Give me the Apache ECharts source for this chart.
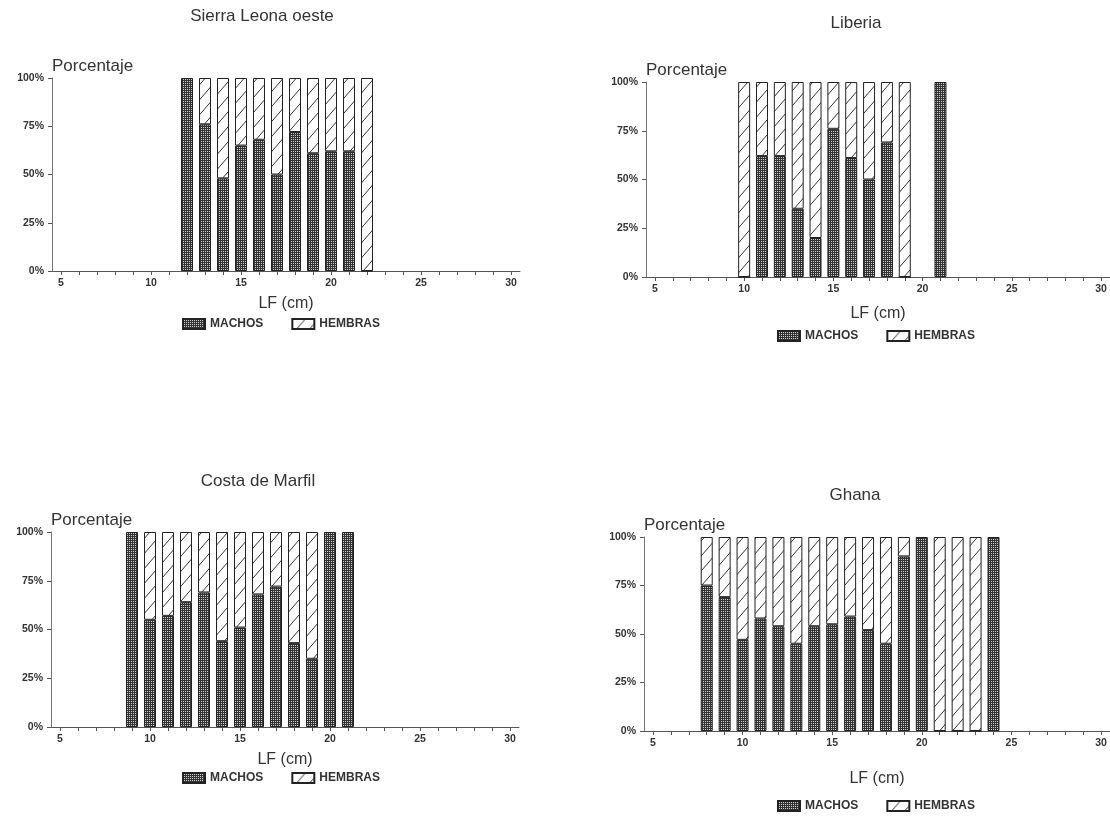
<!DOCTYPE html>
<html>
<head>
<meta charset="utf-8">
<script src="https://cdn.jsdelivr.net/npm/echarts@6/dist/echarts.min.js"></script>
<style>
html,body{margin:0;padding:0;background:#ffffff;}
#chart{width:1110px;height:816px;}
</style>
</head>
<body>
<div id="chart"></div>
<script>
// ---------------- DATA ----------------
const panelTitles = ['Sierra Leona oeste', 'Liberia', 'Costa de Marfil', 'Ghana'];
const seriesNames = ['MACHOS', 'HEMBRAS'];
const yAxisName = 'Porcentaje';
const xAxisName = 'LF (cm)';

// Sierra Leona oeste
const lengthsSL = [12, 13, 14, 15, 16, 17, 18, 19, 20, 21, 22];
const machosSL  = [100, 76, 48, 65, 68, 50, 72, 61, 62, 62, 0];
const hembrasSL = [0, 24, 52, 35, 32, 50, 28, 39, 38, 38, 100];

// Liberia
const lengthsLI = [10, 11, 12, 13, 14, 15, 16, 17, 18, 19, 21];
const machosLI  = [0, 62, 62, 35, 20, 76, 61, 50, 69, 0, 100];
const hembrasLI = [100, 38, 38, 65, 80, 24, 39, 50, 31, 100, 0];

// Costa de Marfil
const lengthsCM = [9, 10, 11, 12, 13, 14, 15, 16, 17, 18, 19, 20, 21];
const machosCM  = [100, 55, 57, 64, 69, 44, 51, 68, 72, 43, 35, 100, 100];
const hembrasCM = [0, 45, 43, 36, 31, 56, 49, 32, 28, 57, 65, 0, 0];

// Ghana
const lengthsGH = [8, 9, 10, 11, 12, 13, 14, 15, 16, 17, 18, 19, 20, 21, 22, 23, 24];
const machosGH  = [75, 69, 47, 58, 54, 45, 54, 55, 59, 52, 45, 90, 100, 0, 0, 0, 100];
const hembrasGH = [25, 31, 53, 42, 46, 55, 46, 45, 41, 48, 55, 10, 0, 100, 100, 100, 0];

// axis categories / tick labels
const xCategories = [5, 6, 7, 8, 9, 10, 11, 12, 13, 14, 15, 16, 17, 18, 19, 20, 21, 22, 23, 24, 25, 26, 27, 28, 29, 30];
const xLabelValues = [5, 10, 15, 20, 25, 30];
const yTickValues = [0, 25, 50, 75, 100];

const panels = [
  { lengths: lengthsSL, machos: machosSL, hembras: hembrasSL },
  { lengths: lengthsLI, machos: machosLI, hembras: hembrasLI },
  { lengths: lengthsCM, machos: machosCM, hembras: hembrasCM },
  { lengths: lengthsGH, machos: machosGH, hembras: hembrasGH }
];

// ---------------- LAYOUT ----------------
const layout = [
  { grid: { left: 52, top: 78, width: 468, height: 193 }, title: [262, 8],  legend: [182, 318], nameGap: 25 },
  { grid: { left: 646, top: 82, width: 466, height: 195 }, title: [856, 15], legend: [777, 330], nameGap: 29 },
  { grid: { left: 51, top: 532, width: 468, height: 195 }, title: [258, 473], legend: [182, 772], nameGap: 25 },
  { grid: { left: 644, top: 537, width: 466, height: 194 }, title: [855, 487], legend: [777, 800], nameGap: 40 }
];

const FONT = '"Liberation Sans", Arial, sans-serif';
const TXT = '#333333';

function machosPattern() {
  const c = document.createElement('canvas');
  c.width = 4; c.height = 4;
  const g = c.getContext('2d');
  g.fillStyle = '#333333';
  g.fillRect(0, 0, 4, 4);
  g.fillStyle = '#cfcfcf';
  [[1, 1], [3, 3], [1, 3], [3, 1]].forEach(function (p) { g.fillRect(p[0], p[1], 1, 1); });
  return c;
}
function hembrasPattern() {
  const c = document.createElement('canvas');
  c.width = 13; c.height = 15;
  const g = c.getContext('2d');
  g.fillStyle = '#ffffff';
  g.fillRect(0, 0, 13, 15);
  g.strokeStyle = '#333333';
  g.lineWidth = 1;
  g.beginPath();
  g.moveTo(0, 15);
  g.lineTo(13, 0);
  g.stroke();
  return c;
}
const patM = { image: machosPattern(), repeat: 'repeat' };
const patH = { image: hembrasPattern(), repeat: 'repeat' };

// machos: keep 0 inside the measured range so that the stack base exists
function machosData(lengths, values) {
  return xCategories.map(function (c) {
    const k = lengths.indexOf(c);
    return k < 0 ? '-' : values[k];
  });
}
function hembrasData(lengths, values) {
  return xCategories.map(function (c) {
    const k = lengths.indexOf(c);
    return (k < 0 || !values[k]) ? '-' : values[k];
  });
}

const option = {
  animation: false,
  backgroundColor: '#ffffff',
  textStyle: { fontFamily: FONT },
  title: [], grid: [], xAxis: [], yAxis: [], legend: [], series: []
};

panels.forEach(function (p, i) {
  const L = layout[i];
  option.title.push({
    text: panelTitles[i],
    left: L.title[0], top: L.title[1], textAlign: 'center', padding: 0,
    textStyle: { fontSize: 17, fontWeight: 'normal', color: TXT, fontFamily: FONT }
  });
  option.grid.push(L.grid);
  option.xAxis.push({
    gridIndex: i, type: 'category', data: xCategories, boundaryGap: true,
    name: xAxisName, nameLocation: 'middle', nameGap: L.nameGap,
    nameTextStyle: { fontSize: 16, color: TXT, fontFamily: FONT },
    axisLine: { show: true, lineStyle: { color: '#555', width: 1 } },
    axisTick: { show: true, alignWithLabel: true, interval: 0, length: 4, lineStyle: { color: '#555' } },
    axisLabel: {
      interval: function (idx, val) { return xLabelValues.indexOf(Number(val)) >= 0; },
      fontSize: 10.5, fontWeight: 'bold', color: TXT, margin: 7, fontFamily: FONT
    },
    splitLine: { show: false }
  });
  option.yAxis.push({
    gridIndex: i, type: 'value', min: yTickValues[0], max: yTickValues[yTickValues.length - 1], interval: 25,
    name: yAxisName, nameLocation: 'end', nameGap: 12,
    nameTextStyle: { fontSize: 17, color: TXT, align: 'left', verticalAlign: 'middle', fontFamily: FONT },
    axisLine: { show: true, lineStyle: { color: '#777', width: 1 } },
    axisTick: { show: true, length: 4, lineStyle: { color: '#555' } },
    axisLabel: { formatter: '{value}%', fontSize: 10.5, fontWeight: 'bold', color: TXT, margin: 8, fontFamily: FONT },
    splitLine: { show: false }
  });
  option.legend.push({
    data: seriesNames,
    left: L.legend[0], top: L.legend[1], padding: 0,
    icon: 'rect', itemWidth: 22, itemHeight: 10, itemGap: 28,
    textStyle: { fontSize: 12, fontWeight: 'bold', color: TXT, fontFamily: FONT },
    selectedMode: false
  });
  option.series.push({
    type: 'bar', name: seriesNames[0], xAxisIndex: i, yAxisIndex: i, stack: 'p' + i,
    stackStrategy: 'all', barWidth: 12,
    data: machosData(p.lengths, p.machos),
    itemStyle: { color: patM, borderColor: '#222', borderWidth: 1 }
  });
  option.series.push({
    type: 'bar', name: seriesNames[1], xAxisIndex: i, yAxisIndex: i, stack: 'p' + i,
    stackStrategy: 'all', barWidth: 12,
    data: hembrasData(p.lengths, p.hembras),
    itemStyle: { color: patH, borderColor: '#222', borderWidth: 1 }
  });
});

const chart = echarts.init(document.getElementById('chart'), null, { renderer: 'canvas' });
chart.setOption(option);
</script>
</body>
</html>
